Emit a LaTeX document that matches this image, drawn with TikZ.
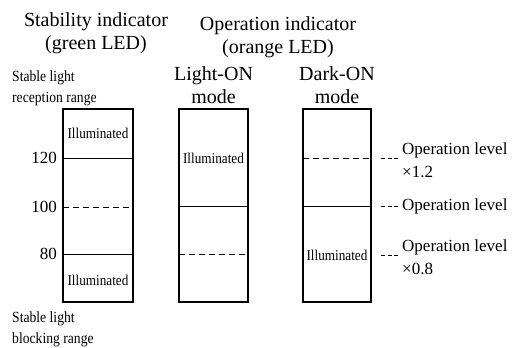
\documentclass[tikz,border=0pt]{standalone}
\usepackage{fontspec}
\setmainfont{Liberation Serif}
\newfontfamily\condfont[FakeStretch=0.88]{Liberation Serif}
\begin{document}
\begin{tikzpicture}[x=1pt,y=-1pt,
  bar/.style={draw, line width=1.5pt},
  lvl/.style={line width=1pt},
  dlvl/.style={line width=1pt, dash pattern=on 6pt off 4pt},
  sdash/.style={line width=1pt, dash pattern=on 4pt off 2.5pt},
  hdr/.style={font=\fontsize{20}{23.5}\selectfont, align=center, inner sep=0pt},
  lab/.style={font=\fontsize{17}{23}\selectfont, inner sep=0pt},
  small/.style={font=\condfont\fontsize{15.5}{21}\selectfont, align=left, inner sep=0pt},
  ill/.style={font=\condfont\fontsize{15}{18}\selectfont, inner sep=0pt}]
\useasboundingbox (0,0) rectangle (512,348);
% headers
\node[hdr] (h1) at (96,33) {Stability indicator\\(green LED)};
\node[hdr] (h2) at (278,37) {Operation indicator\\(orange LED)};
\node[hdr] (m1) at (213.5,85) {Light-ON\\mode};
\node[hdr] (m2) at (337,85) {Dark-ON\\mode};
\node[small, anchor=west] (sr) at (12,88) {Stable light\\reception range};
\node[small, anchor=west] (sb) at (12,329) {Stable light\\blocking range};
% bars
\draw[bar] (63,109) rectangle (133,302);
\draw[bar] (179,109) rectangle (248,302);
\draw[bar] (303,109) rectangle (371,302);
% box 1 levels
\coordinate (a1) at (63,158); \coordinate (b1) at (133,158);
\coordinate (a2) at (63,207); \coordinate (b2) at (133,207);
\coordinate (a3) at (63,254); \coordinate (b3) at (133,254);
\draw[lvl] (a1) -- (b1);
\draw[dlvl] (a2) -- (b2);
\draw[lvl] (a3) -- (b3);
\node[lab, anchor=east] (n120) at (57,158) {120};
\node[lab, anchor=east] (n100) at (57,207) {100};
\node[lab, anchor=east] (n80) at (57,254) {80};
\node[ill] (i1) at (98,133) {Illuminated};
\node[ill] (i2) at (98,280) {Illuminated};
% box 2
\coordinate (c2) at (179,206); \coordinate (d2) at (248,206);
\coordinate (c3) at (179,254); \coordinate (d3) at (248,254);
\draw[lvl] (c2) -- (d2);
\draw[dlvl] (c3) -- (d3);
\node[ill] (i3) at (213.5,158) {Illuminated};
% box 3
\coordinate (e1) at (303,158); \coordinate (f1) at (371,158);
\coordinate (e2) at (303,206); \coordinate (f2) at (371,206);
\draw[dlvl] (e1) -- (f1);
\draw[lvl] (e2) -- (f2);
\node[ill] (i4) at (337,255) {Illuminated};
% right labels
\coordinate (g1) at (381,158); \coordinate (k1) at (398,158);
\coordinate (g2) at (381,206); \coordinate (k2) at (398,206);
\coordinate (g3) at (381,255); \coordinate (k3) at (398,255);
\draw[sdash] (g1) -- (k1);
\draw[sdash] (g2) -- (k2);
\draw[sdash] (g3) -- (k3);
\node[lab, anchor=west, align=left] (o1) at (402,160) {Operation level\\\texttimes1.2};
\node[lab, anchor=west] (o2) at (402,206) {Operation level};
\node[lab, anchor=west, align=left] (o3) at (402,257) {Operation level\\\texttimes0.8};
\end{tikzpicture}
\end{document}
